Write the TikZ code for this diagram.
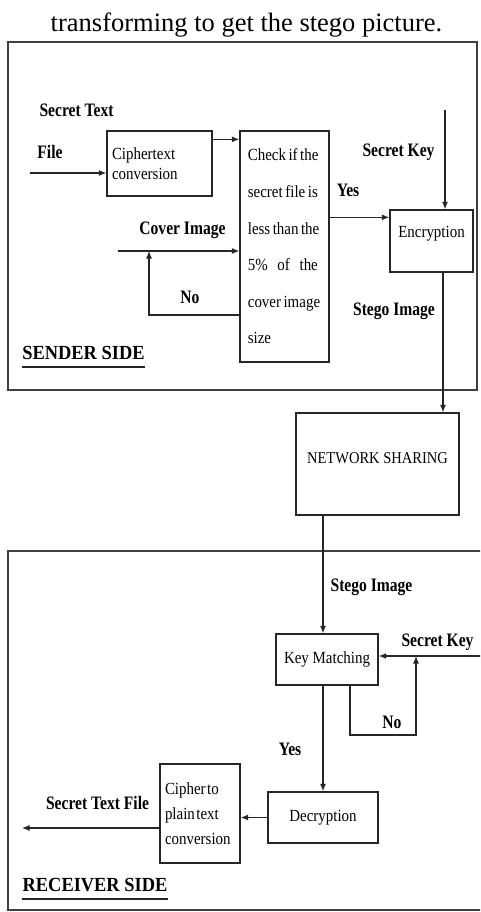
\documentclass[tikz,border=0pt]{standalone}
\usepackage{fontspec}
\setmainfont{Liberation Serif}
\newfontfamily\labfont[FakeStretch=0.82]{Liberation Serif}
\newfontfamily\boxfont[FakeStretch=0.88]{Liberation Serif}
\newfontfamily\sidefont[FakeStretch=0.92]{Liberation Serif}
\usetikzlibrary{arrows.meta}
\begin{document}
\begin{tikzpicture}[x=1pt,y=-1pt,
  frame/.style={draw=black!75, line width=2pt},
  box/.style={draw=black!85, line width=1.3pt, font=\boxfont\fontsize{17}{20}\selectfont, inner sep=3pt},
  lab/.style={font=\labfont\bfseries\fontsize{19}{22}\selectfont, inner sep=0pt},
  side/.style={font=\sidefont\bfseries\fontsize{20}{24}\selectfont, inner sep=0pt},
  arr/.style={draw=black!85, line width=1.2pt, -{Latex[length=7.5pt,width=6pt]}},
  uline/.style={draw=black!85, line width=1.8pt}
]
\clip (0,0) rectangle (480,912);
\fill[white] (0,0) rectangle (480,912);

% caption
\node[font=\fontsize{26.5}{30}\selectfont, inner sep=0pt] (cap) at (246.5,25) {transforming to get the stego picture.};

% frames
\draw[frame] (8,42) rectangle (477,390);
\draw[frame] (8,551) rectangle (490,910);

% ---------------- sender side ----------------
\node[box, minimum width=105pt, minimum height=65pt, text width=95pt, align=left, inner sep=5pt] (cipher) at (159.5,163.5) {Ciphertext\\conversion};
\node[box, minimum width=89pt, minimum height=231pt, align=left, inner sep=0pt,
      font=\boxfont\fontsize{17}{36.6}\selectfont] (check) at (284.5,246.5)
 {\makebox[70pt][s]{Check if the}\\\makebox[70pt][s]{secret file is}\\\makebox[70pt][s]{less than the}\\\makebox[70pt][s]{5\% of the}\\\makebox[70pt][s]{cover image}\\size\hspace*{50pt}};
\node[box, minimum width=83pt, minimum height=62pt, text height=12pt, text depth=20pt] (enc) at (431.5,241) {Encryption};

\node[lab] (stf) at (76.5,110) {Secret Text};
\node[lab] (file) at (50,152) {File};
\node[lab] (skey) at (398.5,152) {Secret Key};
\node[lab] (yes1) at (348,190) {Yes};
\node[lab] (cover) at (182.5,230) {Cover Image};
\node[lab] (no1) at (190,297) {No};
\node[lab] (stego1) at (394,311) {Stego Image};
\node[side] (snd) at (83.5,353) {SENDER SIDE};
\draw[uline] ([yshift=-7pt]snd.south west) -- ([yshift=-7pt]snd.south east);

\coordinate (filein) at (30,173);
\draw[arr] (filein) -- (filein -| cipher.west);

\coordinate (c1) at ([yshift=-9pt]cipher.north east);
\draw[arr] (c1) -- (c1 -| check.west);

\coordinate (c2) at ([yshift=-8pt]enc.north west);
\draw[arr] (c2 -| check.east) -- (c2);

\coordinate (skin) at (445,110);
\draw[arr] (skin) -- (skin |- enc.north);

\coordinate (coverin) at (118,251);
\draw[arr] (coverin) -- (coverin -| check.west);

\coordinate (nol) at (149,315);
\draw[arr] (nol -| check.west) -- (nol) -- (nol |- coverin);

% ---------------- network ----------------
\node[box, minimum width=163pt, minimum height=102pt, text height=12pt, text depth=14pt,
      font=\boxfont\fontsize{16.5}{20}\selectfont] (net) at (377.5,464) {NETWORK SHARING};

\coordinate (c4) at (443,400);
\draw[arr] (enc.south -| c4) -- (net.north -| c4);

% ---------------- receiver side ----------------
\node[box, minimum width=102pt, minimum height=51pt] (km) at (327,659.5) {Key Matching};
\node[box, minimum width=110pt, minimum height=51pt] (dec) at (323,817.5) {Decryption};
\node[box, minimum width=80pt, minimum height=99pt, text width=70pt, align=left, inner sep=5pt,
      font=\boxfont\fontsize{17}{25}\selectfont] (cp) at (200,813.5)
 {\spaceskip=1.5pt plus 1pt\relax Cipher to\\plain text\\conversion};

\node[lab] (stego2) at (371.5,587) {Stego Image};
\node[lab] (skey2) at (437.5,642) {Secret Key};
\node[lab] (no2) at (392,722) {No};
\node[lab] (yes2) at (290,749) {Yes};
\node[lab] (stf2) at (97.5,803) {Secret Text File};
\node[side] (rcv) at (95,885) {RECEIVER SIDE};
\draw[uline] ([yshift=-7pt]rcv.south west) -- ([yshift=-7pt]rcv.south east);

\coordinate (c5) at (323,600);
\draw[arr] (net.south -| c5) -- (km.north -| c5);

\coordinate (skin2) at (484,656);
\draw[arr] (skin2) -- (skin2 -| km.east);

\coordinate (nr) at (350,735);
\coordinate (nr2) at (416,735);
\draw[arr] (km.south -| nr) -- (nr) -- (nr2) -- (nr2 |- skin2);

\draw[arr] (km.south -| c5) -- (dec.north -| c5);

\draw[arr] (dec.west) -- (dec.west -| cp.east);

\coordinate (out) at (22,828);
\draw[arr] (out -| cp.west) -- (out);
\end{tikzpicture}
\end{document}
